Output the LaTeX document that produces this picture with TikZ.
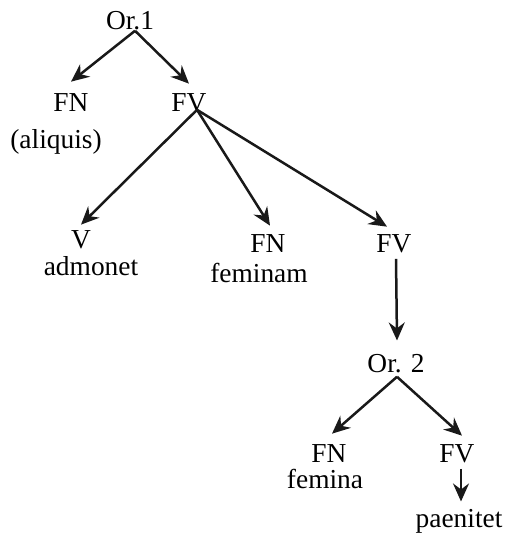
\documentclass[tikz,border=0pt]{standalone}
\usepackage{fontspec}
\setmainfont{Liberation Serif}
\usetikzlibrary{arrows.meta}
\begin{document}
\begin{tikzpicture}[x=0.5pt, y=-0.5pt, every node/.style={font=\fontsize{13.7}{16}\selectfont}]
        \tikzstyle{lbl} = [inner sep=0pt, anchor=base]
        \tikzstyle{arr} = [line width=1.25pt, -{Stealth[length=9pt,width=8pt,inset=3pt]}, color=black!90]
        \useasboundingbox (0,0) rectangle (506,533);
        \node [lbl] (or1) at (130,30) {Or.1};
        \node [lbl] (fn1) at (71,112) {FN};
        \node [lbl] (fv1) at (189,112) {FV};
        \node [lbl] (aliq) at (56,149) {(aliquis)};
        \node [lbl] (v) at (81,249) {V};
        \node [lbl] (adm) at (91,276) {admonet};
        \node [lbl] (fn2) at (268,253) {FN};
        \node [lbl] (fem2) at (259,282) {feminam};
        \node [lbl] (fv2) at (394,253) {FV};
        \node [lbl] (or2) at (396,372) {Or. 2};
        \node [lbl] (fn3) at (329,462) {FN};
        \node [lbl] (fem3) at (325,488) {femina};
        \node [lbl] (fv3) at (457,462) {FV};
        \node [lbl] (paen) at (459,527) {paenitet};
        \draw [arr] ([xshift=2.5pt]or1.south) -- ([yshift=6pt]fn1.north);
        \draw [arr] ([xshift=2.5pt]or1.south) -- ([yshift=5pt]fv1.north);
        \draw [arr] ([xshift=4pt,yshift=1.5pt]fv1.south) -- ([yshift=3pt]v.north);
        \draw [arr] ([xshift=4pt,yshift=1.5pt]fv1.south) -- ([xshift=1pt,yshift=4.5pt]fn2.north);
        \draw [arr] ([xshift=4pt,yshift=1.5pt]fv1.south) -- ([xshift=-3.5pt,yshift=4pt]fv2.north);
        \draw [arr] ([xshift=1pt,yshift=-2.5pt]fv2.south) -- ([xshift=0.5pt,yshift=6.5pt]or2.north);
        \draw [arr] ([xshift=0.5pt,yshift=-2pt]or2.south) -- ([xshift=1.5pt,yshift=5pt]fn3.north);
        \draw [arr] ([xshift=0.5pt,yshift=-2pt]or2.south) -- ([xshift=2.5pt,yshift=4pt]fv3.north);
        \draw [arr] ([xshift=2pt,yshift=-3pt]fv3.south) -- ([xshift=1pt,yshift=3.5pt]paen.north);
    \end{tikzpicture}
\end{document}
